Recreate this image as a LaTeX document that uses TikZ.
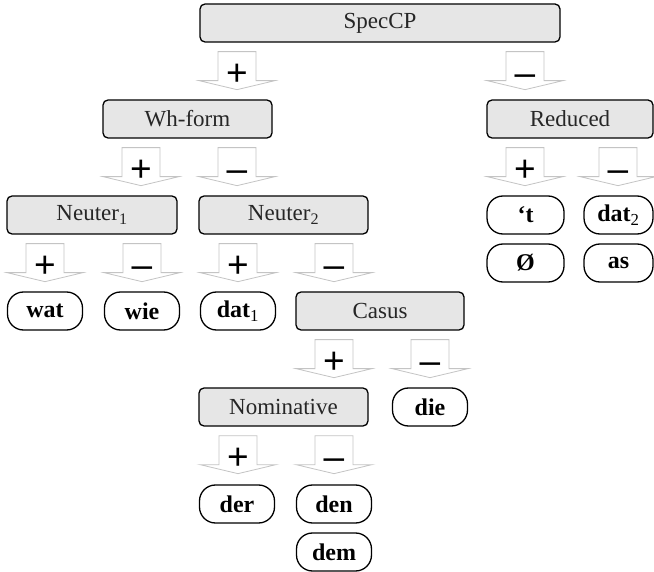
\documentclass[tikz,border=0pt]{standalone}
\usepackage{fontspec}
\setmainfont{Liberation Serif}
\newfontfamily\signfont{Liberation Sans}
\usetikzlibrary{positioning}
\definecolor{boxgray}{HTML}{E6E6E6}
\definecolor{arrowgray}{HTML}{C4C4C4}

\begin{document}
\begin{tikzpicture}[x=1pt,y=-1pt,
    feature/.style={draw,line width=1.3pt,rounded corners=5pt,fill=boxgray,
      minimum width=169pt,minimum height=38pt,inner sep=0pt,
      text=black!85,font=\fontsize{23}{26}\selectfont},
    form/.style={draw,line width=1.3pt,rounded corners=16pt,fill=white,
      minimum width=75pt,minimum height=38pt,inner sep=0pt,
      font=\bfseries\fontsize{24}{26}\selectfont},
    sign/.style={anchor=base,inner sep=0pt,font=\signfont\fontsize{37}{37}\selectfont}]
  \useasboundingbox (0,0) rectangle (654,572);

  % feature boxes
  \node[feature,minimum width=360pt] (spec) at (380,23) {SpecCP};
  \node[feature] (wh) at (187.5,119) {Wh-form};
  \node[feature,minimum width=166pt] (red) at (570,119) {Reduced};
  \node[feature,minimum width=170pt] (neutA) at (92,215) {Neuter\textsubscript{1}};
  \node[feature] (neutB) at (283.5,215) {Neuter\textsubscript{2}};
  \node[feature,minimum width=168pt] (casus) at (380,311) {Casus};
  \node[feature] (nomin) at (283.5,407) {Nominative};

  % forms
  \node[form,minimum width=77pt] (t) at (525.5,215) {‘t};
  \node[form,minimum width=69pt] (datB) at (618.5,215) {dat\textsubscript{\mdseries 2}};
  \node[form,minimum width=77pt] (zero) at (525.5,263) {Ø};
  \node[form,minimum width=69pt] (as) at (618.5,263) {as};
  \node[form] (wat) at (45,311) {wat};
  \node[form] (wie) at (142,311) {wie};
  \node[form] (datA) at (238,311) {dat\textsubscript{\mdseries 1}};
  \node[form] (die) at (430,407) {die};
  \node[form] (der) at (237,504) {der};
  \node[form] (den) at (334,504) {den};
  \node[form] (dem) at (334,552) {dem};

  % +/- block arrows below each feature
  \foreach \p/\x/\s/\n in {spec/237/+/specP,spec/525/–/specM,
      wh/141/+/whP,wh/237/–/whM,red/525/+/redP,red/618/–/redM,
      neutA/45/+/neutAP,neutA/142/–/neutAM,neutB/238/+/neutBP,neutB/334/–/neutBM,
      casus/334/+/casusP,casus/430/–/casusM,nomin/238/+/nominP,nomin/334/–/nominM}{
    \draw[arrowgray,fill=white,line width=0.8pt] (\x,0 |- \p.south) ++(-19,9)
      -- ++(38,0) -- ++(0,29) -- ++(19,0) -- ++(-38,9) -- ++(-38,-9) -- ++(19,0) -- cycle;
    \path (\x,0 |- \p.south) ++(0,43) node[sign] (\n) {\s};
  }
\end{tikzpicture}
\end{document}
